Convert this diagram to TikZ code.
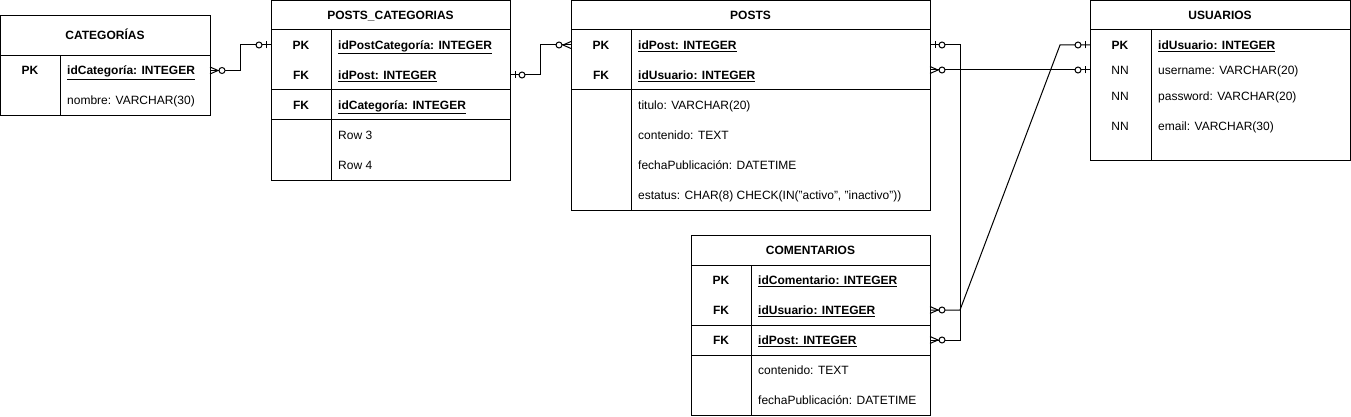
\documentclass[tikz,border=0pt]{standalone}
\usepackage{fontspec}
\setmainfont{Liberation Sans}
\usetikzlibrary{positioning, calc}

\begin{document}
\begin{tikzpicture}[
  x=1pt, y=-1pt,
  font=\fontsize{12}{14}\selectfont,
  filo/.style={draw=black, line width=1pt},
  tabella/.style={draw=black, line width=1pt, anchor=north west, inner sep=0pt, outer sep=0pt},
  titolo/.style={inner sep=0pt, text height=8.6pt, text depth=0pt, font=\fontsize{12}{14}\selectfont\bfseries},
  chiave/.style={inner sep=0pt, text height=8.6pt, text depth=0pt, font=\fontsize{12}{14}\selectfont\bfseries},
  nonnullo/.style={inner sep=0pt, text height=8.6pt, text depth=0pt},
  campo/.style={inner sep=0pt, text height=8.6pt, text depth=0pt, anchor=west},
  ceromuchos/.pic={
    \draw[filo] (0,-3.5) -- (8,0) -- (0,3.5);
    \draw[filo, fill=white] (12,0) circle (3);
  },
  cerouno/.pic={
    \draw[filo] (5,-3.5) -- (5,3.5);
    \draw[filo, fill=white] (12,0) circle (3);
  }
]
\useasboundingbox (0,0) rectangle (1351,417);

% CATEGORIAS
\node[tabella, minimum width=209.5pt, minimum height=100pt] (categorias) at (0.5,15.5) {};
\draw[filo] (0.5,55.5) -- (210,55.5);
\draw[filo] (60,55.5) -- (60,115.5);
\node[titolo] (cat-t) at (105,35.5) {CATEGORÍAS};
\node[chiave] (cat-k1) at (30,70.5) {PK};
\node[campo] (cat-id) at (67,70.5) {\textbf{\underline{idCategoría: INTEGER}}};
\node[campo] (cat-nom) at (67,100.5) {nombre: VARCHAR(30)};

% POSTS_CATEGORIAS
\node[tabella, minimum width=239pt, minimum height=179.5pt] (postscat) at (271,0.5) {};
\draw[filo] (271,30) -- (510,30);
\draw[filo] (271,90) -- (510,90);
\draw[filo] (271,120) -- (510,120);
\draw[filo] (331,30) -- (331,180);
\node[titolo] (pc-t) at (390.5,15) {POSTS\_CATEGORIAS};
\node[chiave] (pc-k1) at (301,45) {PK};
\node[chiave] (pc-k2) at (301,75) {FK};
\node[chiave] (pc-k3) at (301,105) {FK};
\node[campo] (pc-pk) at (338,45) {\textbf{\underline{idPostCategoría: INTEGER}}};
\node[campo] (pc-post) at (338,75) {\textbf{\underline{idPost: INTEGER}}};
\node[campo] (pc-cat) at (338,105) {\textbf{\underline{idCategoría: INTEGER}}};
\node[campo] (pc-r3) at (338,135) {Row 3};
\node[campo] (pc-r4) at (338,165) {Row 4};

% POSTS
\node[tabella, minimum width=359pt, minimum height=209.5pt] (posts) at (571,0.5) {};
\draw[filo] (571,30) -- (930,30);
\draw[filo] (571,90) -- (930,90);
\draw[filo] (631,30) -- (631,210);
\node[titolo] (p-t) at (750.5,15) {POSTS};
\node[chiave] (p-k1) at (601,45) {PK};
\node[chiave] (p-k2) at (601,75) {FK};
\node[campo] (p-id) at (638,45) {\textbf{\underline{idPost: INTEGER}}};
\node[campo] (p-usr) at (638,75) {\textbf{\underline{idUsuario: INTEGER}}};
\node[campo] (p-tit) at (638,105) {titulo: VARCHAR(20)};
\node[campo] (p-cont) at (638,135) {contenido: TEXT};
\node[campo] (p-fecha) at (638,165) {fechaPublicación: DATETIME};
\node[campo] (p-est) at (638,195) {estatus: CHAR(8) CHECK(IN("activo", "inactivo"))};

% USUARIOS
\node[tabella, minimum width=260pt, minimum height=159.5pt] (usuarios) at (1090,0.5) {};
\draw[filo] (1090,30) -- (1350,30);
\draw[filo] (1151,30) -- (1151,160);
\node[titolo] (u-t) at (1220,15) {USUARIOS};
\node[chiave] (u-k1) at (1120,45) {PK};
\node[nonnullo] (u-k2) at (1120,70) {NN};
\node[nonnullo] (u-k3) at (1120,96) {NN};
\node[nonnullo] (u-k4) at (1120,126) {NN};
\node[campo] (u-id) at (1158,45) {\textbf{\underline{idUsuario: INTEGER}}};
\node[campo] (u-user) at (1158,70) {username: VARCHAR(20)};
\node[campo] (u-pass) at (1158,96) {password: VARCHAR(20)};
\node[campo] (u-mail) at (1158,126) {email: VARCHAR(30)};

% COMENTARIOS
\node[tabella, minimum width=239pt, minimum height=180pt] (comentarios) at (691,235) {};
\draw[filo] (691,265) -- (930,265);
\draw[filo] (691,325) -- (930,325);
\draw[filo] (691,355) -- (930,355);
\draw[filo] (751,265) -- (751,415);
\node[titolo] (c-t) at (810.5,250) {COMENTARIOS};
\node[chiave] (c-k1) at (721,280) {PK};
\node[chiave] (c-k2) at (721,310) {FK};
\node[chiave] (c-k3) at (721,340) {FK};
\node[campo] (c-id) at (758,280) {\textbf{\underline{idComentario: INTEGER}}};
\node[campo] (c-usr) at (758,310) {\textbf{\underline{idUsuario: INTEGER}}};
\node[campo] (c-post) at (758,340) {\textbf{\underline{idPost: INTEGER}}};
\node[campo] (c-cont) at (758,370) {contenido: TEXT};
\node[campo] (c-fecha) at (758,400) {fechaPublicación: DATETIME};

% Relazioni
\draw[filo] (cat-id -| categorias.east) -- ++(30,0) |- (pc-pk -| postscat.west);
\draw[filo] (pc-post -| postscat.east) -- ++(30,0) |- (p-id -| posts.west);
\draw[filo] (p-id -| posts.east) -- ++(30,0) |- (c-post -| comentarios.east);
\draw[filo] (posts.east |- u-user) -- (u-user -| usuarios.west);
\draw[filo] (c-usr -| comentarios.east) -- ++(30,0)
  -- ($(u-id -| usuarios.west)+(-30,0)$) -- (u-id -| usuarios.west);

% Cardinalita
\pic at (cat-id -| categorias.east) {ceromuchos};
\pic[rotate=180] at (pc-pk -| postscat.west) {cerouno};
\pic at (pc-post -| postscat.east) {cerouno};
\pic[rotate=180] at (p-id -| posts.west) {ceromuchos};
\pic at (p-id -| posts.east) {cerouno};
\pic at (posts.east |- u-user) {ceromuchos};
\pic[rotate=180] at (u-user -| usuarios.west) {cerouno};
\pic[rotate=180] at (u-id -| usuarios.west) {cerouno};
\pic at (c-usr -| comentarios.east) {ceromuchos};
\pic at (c-post -| comentarios.east) {ceromuchos};

\end{tikzpicture}
\end{document}
